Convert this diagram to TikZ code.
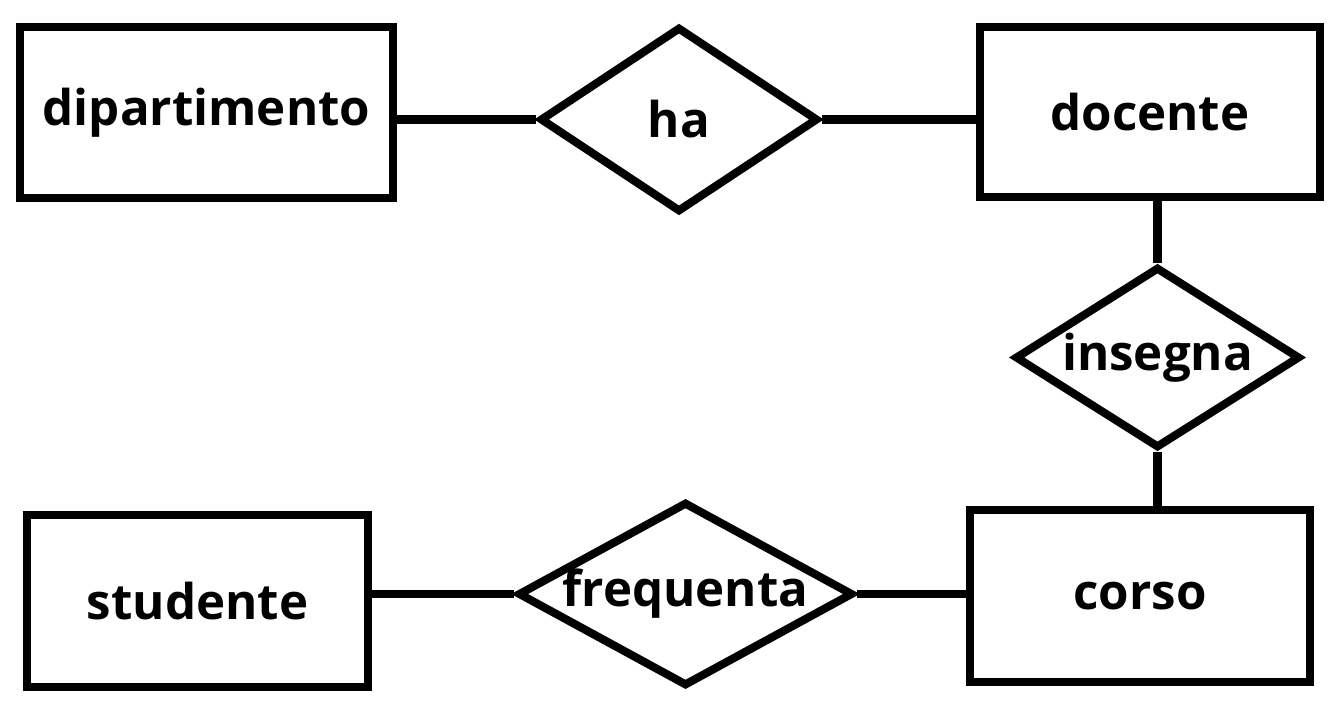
\documentclass[tikz,border=0pt]{standalone}
\usepackage{fontspec}
\setmainfont{Open Sans}
\usetikzlibrary{shapes.geometric}
\tikzset{
  entity/.style={draw, line width=2.3pt, rectangle, inner sep=0pt},
  rel/.style={draw, line width=2.3pt, diamond, inner sep=0pt},
  lbl/.style={font=\fontsize{14}{16}\selectfont\bfseries},
  link/.style={line width=2.3pt},
}
\begin{document}
\begin{tikzpicture}[x=0.01cm, y=-0.01cm]
	\useasboundingbox (0,0) rectangle (1340,706);

	% entities
	\node[entity, minimum width=3.73cm, minimum height=1.71cm, label={[lbl]center:dipartimento}] (dip) at (206.5,112.5) {};
	\node[entity, minimum width=3.40cm, minimum height=1.70cm, label={[lbl]center:docente}] (doc) at (1150,112) {};
	\node[entity, minimum width=3.41cm, minimum height=1.72cm, label={[lbl]center:studente}] (stu) at (197.5,601) {};
	\node[entity, minimum width=3.40cm, minimum height=1.72cm, label={[lbl]center:corso}] (cor) at (1140,596) {};

	% relations
	\node[rel, minimum width=2.78cm, minimum height=1.85cm, label={[lbl]center:ha}] (ha) at (679,119.5) {};
	\node[rel, minimum width=2.85cm, minimum height=1.81cm, label={[lbl]center:insegna}] (ins) at (1157.5,357.5) {};
	\node[rel, minimum width=3.35cm, minimum height=1.84cm, label={[lbl]center:frequenta}] (fre) at (685.5,594) {};

	\draw[link] (dip.east |- ha.west) -- (ha.west);
	\draw[link] (ha.east) -- (doc.west |- ha.east);
	\draw[link] (doc.south -| ins.north) -- (ins.north);
	\draw[link] (ins.south) -- (cor.north -| ins.south);
	\draw[link] (stu.east |- fre.west) -- (fre.west);
	\draw[link] (fre.east) -- (cor.west |- fre.east);

\end{tikzpicture}
\end{document}
